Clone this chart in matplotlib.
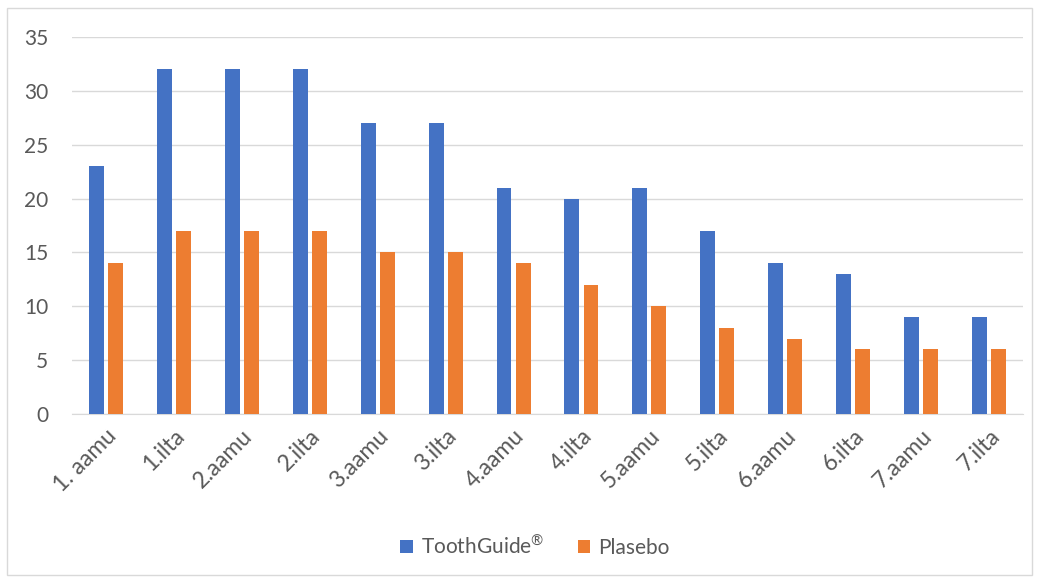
import matplotlib.pyplot as plt
import numpy as np

# Data for the chart
categories = ["1. aamu", "1.ilta", "2.aamu", "2.ilta", "3.aamu", "3.ilta", "4.aamu",
              "4.ilta", "5.aamu", "5.ilta", "6.aamu", "6.ilta", "7.aamu", "7.ilta"]
toothguide = [23, 32, 32, 32, 27, 27, 21, 20, 21, 17, 14, 13, 9, 9]
plasebo = [14, 17, 17, 17, 15, 15, 14, 12, 10, 8, 7, 6, 6, 6]

plt.rcParams['font.family'] = ['Lato', 'DejaVu Sans']
plt.rcParams['mathtext.fontset'] = 'custom'
plt.rcParams['mathtext.rm'] = 'Lato'
text_color = '#595959'

fig = plt.figure(figsize=(10.39, 5.79), dpi=100)
ax = fig.add_axes([0.0693, 0.285, 0.9153, 0.651])

x = np.arange(len(categories))
w = 0.22
ax.bar(x - 0.14, toothguide, w, color='#4472C4', label='ToothGuide$^{\\mathrm{®}}$', zorder=3)
ax.bar(x + 0.14, plasebo, w, color='#ED7D31', label='Plasebo', zorder=3)

ax.set_xlim(-0.5, len(categories) - 0.5)
ax.set_ylim(0, 35)
ax.set_yticks(range(0, 36, 5))
ax.grid(axis='y', color='#d9d9d9', linewidth=1, zorder=0)

for s in ['top', 'right', 'left']:
    ax.spines[s].set_visible(False)
ax.spines['bottom'].set_color('#d9d9d9')

ax.set_xticks(x)
ax.set_xticklabels(categories, rotation=45, ha='right', rotation_mode='anchor')
ax.tick_params(axis='y', length=0, labelsize=15, colors=text_color, pad=17)
ax.tick_params(axis='x', length=0, labelsize=16.5, colors=text_color, pad=8)

leg = fig.legend(loc='center', bbox_to_anchor=(0.515, 0.057), ncol=2, frameon=False,
                 fontsize=15, handlelength=0.6, handleheight=0.6, columnspacing=1.6,
                 handletextpad=0.4)
for t in leg.get_texts():
    t.set_color(text_color)

# Chart border
fig.patches.append(plt.Rectangle((0.007, 0.007), 0.986, 0.979, transform=fig.transFigure,
                                 fill=False, edgecolor='#d9d9d9', linewidth=1))

fig.savefig('out.png', dpi=100)
